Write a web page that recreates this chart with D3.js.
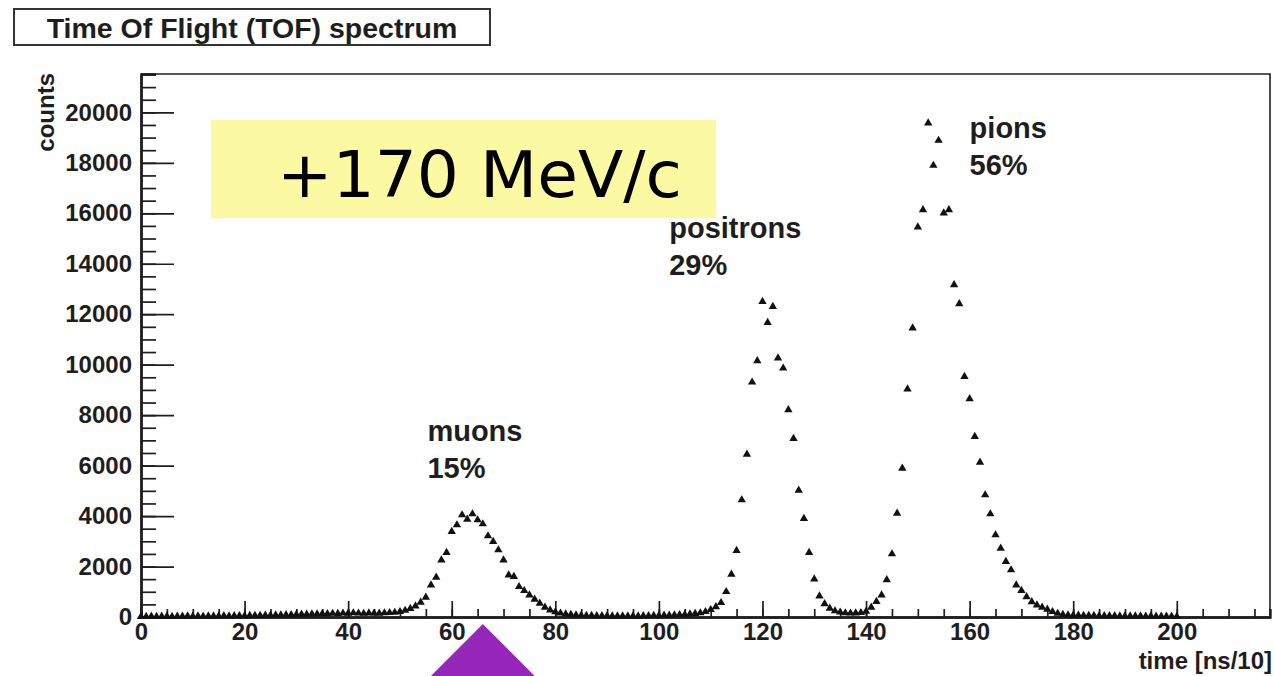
<!DOCTYPE html>
<html>
<head>
<meta charset="utf-8">
<script src="https://cdn.jsdelivr.net/npm/d3@7"></script>
<style>
  html, body { margin: 0; padding: 0; background: #ffffff; }
  svg { display: block; }
</style>
</head>
<body>
<svg id="chart" width="1274" height="676"></svg>
<script>
// Counts per time bin (bin i is centred on t = i, in ns/10)
const counts = [
  15, 20, 25, 20, 30, 25, 20, 30, 25, 35,
  30, 35, 30, 40, 35, 40, 45, 40, 50, 45,
  50, 55, 60, 55, 65, 70, 75, 80, 85, 90,
  100, 110, 105, 120, 115, 130, 125, 140, 135, 150,
  145, 160, 150, 140, 155, 150, 145, 160, 170, 180,
  210, 260, 330, 430, 580, 781, 1269, 1574, 2260, 2550,
  3382, 3648, 4044, 3874, 4084, 3846, 3688, 3212, 2986, 2657,
  2260, 1665, 1598, 1201, 1043, 872, 702, 543, 385, 278,
  200, 150, 120, 95, 80, 70, 60, 55, 50, 45,
  45, 40, 40, 35, 40, 35, 40, 45, 50, 55,
  60, 65, 70, 80, 90, 100, 115, 135, 160, 210,
  290, 400, 567, 1003, 1693, 2629, 4639, 6451, 9306, 10151,
  12502, 11669, 12304, 10258, 9861, 8208, 7070, 5024, 3898, 2550,
  1507, 830, 520, 340, 240, 190, 160, 150, 155, 170,
  220, 380, 610, 870, 1470, 2498, 4112, 5896, 9029, 11447,
  15452, 16138, 19576, 17895, 18886, 16007, 16138, 13164, 12411, 9528,
  8644, 7149, 6134, 4837, 4084, 3251, 2724, 2193, 1864, 1269,
  1050, 800, 600, 470, 380, 300, 210, 140, 100, 80,
  70, 65, 60, 55, 55, 50, 50, 45, 45, 40,
  40, 40, 35, 35, 30, 35, 30, 30, 25, 25, 20
];

const xTickLabels = [0, 20, 40, 60, 80, 100, 120, 140, 160, 180, 200];
const yTickLabels = [0, 2000, 4000, 6000, 8000, 10000, 12000, 14000, 16000, 18000, 20000];

const peakNames  = ["muons", "positrons", "pions"];
const peakShares = ["15%", "29%", "56%"];

const titleText    = "Time Of Flight (TOF) spectrum";
const momentumText = "+170 MeV/c";
const xTitle = "time [ns/10]";
const yTitle = "counts";

// ---- layout ----
const frame = { left: 141, right: 1270, top: 74, bottom: 617 };
const xMax = 218, yMax = 21520;
const FONT = "'Liberation Sans', Arial, Helvetica, sans-serif";
const INK = "#1e1e1e";

const svg = d3.select("#chart");

const x = d3.scaleLinear().domain([0, xMax]).range([frame.left, frame.right]);
const y = d3.scaleLinear().domain([0, yMax]).range([frame.bottom, frame.top]);

// frame box (top and right edges)
svg.append("path")
  .attr("d", `M${frame.left},${frame.top}H${frame.right}V${frame.bottom}`)
  .attr("fill", "none").attr("stroke", INK).attr("stroke-width", 1.6);

// ---- axes ----
function styleAxis(g) {
  g.selectAll("path.domain").attr("stroke", INK).attr("stroke-width", 2.4);
  g.selectAll(".tick line").attr("stroke", INK).attr("stroke-width", 1.7);
  g.selectAll(".tick text")
    .attr("fill", INK)
    .style("font-family", FONT)
    .style("font-weight", "bold")
    .style("font-size", "24px");
}

// x minor ticks every 5
svg.append("g")
  .attr("transform", `translate(0,${frame.bottom})`)
  .call(d3.axisBottom(x).tickValues(d3.range(0, xMax, 5)).tickSize(-8).tickFormat(""))
  .call(styleAxis);
// x major ticks
svg.append("g")
  .attr("transform", `translate(0,${frame.bottom})`)
  .call(d3.axisBottom(x).tickValues(xTickLabels).tickSize(-16).tickSizeOuter(0).tickPadding(6).tickFormat(d3.format("d")))
  .call(styleAxis);

// y minor ticks every 500
svg.append("g")
  .attr("transform", `translate(${frame.left},0)`)
  .call(d3.axisLeft(y).tickValues(d3.range(0, yMax, 500)).tickSize(-15).tickFormat(""))
  .call(styleAxis);
// y major ticks
svg.append("g")
  .attr("transform", `translate(${frame.left},0)`)
  .call(d3.axisLeft(y).tickValues(yTickLabels).tickSize(-33).tickSizeOuter(0).tickPadding(9).tickFormat(d3.format("d")))
  .call(styleAxis);

// axis titles
svg.append("text")
  .attr("x", frame.right + 2).attr("y", 669)
  .attr("text-anchor", "end")
  .attr("fill", INK)
  .style("font-family", FONT).style("font-weight", "bold").style("font-size", "24px")
  .text(xTitle);

svg.append("text")
  .attr("transform", `translate(54,${frame.top - 1}) rotate(-90)`)
  .attr("text-anchor", "end")
  .attr("fill", INK)
  .style("font-family", FONT).style("font-weight", "bold").style("font-size", "24px")
  .text(yTitle);

// ---- data points: filled up-triangles ----
const tri = d3.symbol().type(d3.symbolTriangle).size(30);
svg.append("g")
  .selectAll("path")
  .data(counts)
  .join("path")
  .attr("d", tri)
  .attr("transform", (d, i) => `translate(${x(i)},${y(d)})`)
  .attr("fill", "#111");

// ---- title box ----
svg.append("rect")
  .attr("x", 14).attr("y", 9).attr("width", 476).attr("height", 36)
  .attr("fill", "#fff").attr("stroke", "#333").attr("stroke-width", 2);
svg.append("text")
  .attr("x", 252).attr("y", 38)
  .attr("text-anchor", "middle")
  .attr("fill", INK)
  .style("font-family", FONT).style("font-weight", "bold").style("font-size", "28.5px")
  .text(titleText);

// ---- beam momentum note ----
svg.append("rect")
  .attr("x", 211).attr("y", 120).attr("width", 505).attr("height", 98)
  .attr("fill", "#fcf9a3");
svg.append("text")
  .attr("x", 277).attr("y", 197)
  .attr("textLength", 405).attr("lengthAdjust", "spacingAndGlyphs")
  .attr("fill", "#000")
  .style("font-family", "'DejaVu Sans', sans-serif").style("font-size", "64px")
  .text(momentumText);

// ---- peak labels (anchored in data coordinates) ----
const labelAnchors = [[55.3, 6975], [102.0, 15020], [160.0, 18983]];
const labels = svg.append("g")
  .attr("fill", INK)
  .style("font-family", FONT).style("font-weight", "bold").style("font-size", "29px");
peakNames.forEach((name, i) => {
  const [lx, ly] = labelAnchors[i];
  labels.append("text").attr("x", x(lx)).attr("y", y(ly)).text(name);
  labels.append("text").attr("x", x(lx)).attr("y", y(ly) + 37).text(peakShares[i]);
});

// ---- pointer below the muon peak ----
const pointerT = 66;
const px = x(pointerT), py = 622, ph = 58;
svg.append("path")
  .attr("d", `M${px},${py}L${px + ph},${py + ph}L${px - ph},${py + ph}Z`)
  .attr("fill", "#9427b9")
  .attr("stroke", "#fff").attr("stroke-width", 3).attr("stroke-linejoin", "miter");
</script>
</body>
</html>
